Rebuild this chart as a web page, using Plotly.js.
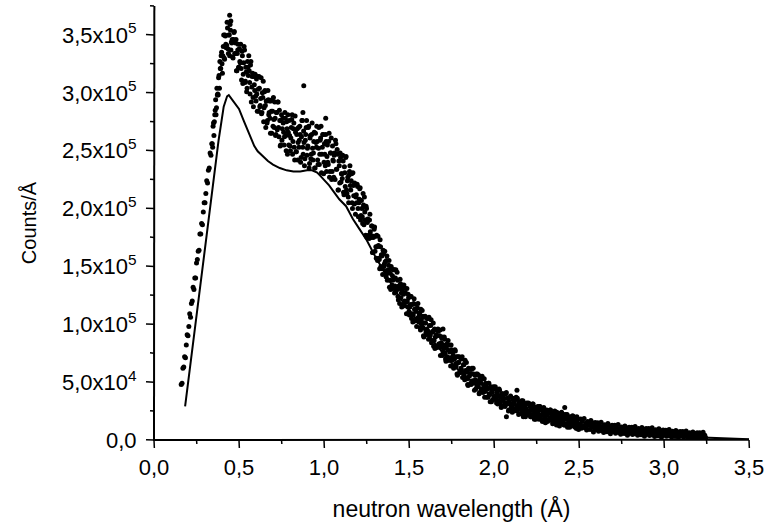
<!DOCTYPE html>
<html>
<head>
<meta charset="utf-8">
<script src="https://cdn.plot.ly/plotly-3.0.1.min.js"></script>
<style>html,body{margin:0;padding:0;background:#fff;}#chart{width:768px;height:524px;}</style>
</head>
<body>
<div id="chart"></div>
<script>
// Measured points: neutron wavelength (Å) and counts/Å in units of 10^3
const measWavelengthA = [
.16,.165,.17,.175,.18,.185,.19,.195,.2,.205,
.21,.215,.22,.225,.23,.235,.24,.245,.25,.255,
.26,.265,.27,.275,.28,.285,.29,.295,.3,.305,
.31,.315,.32,.325,.33,.335,.34,.345,.35,.355,
.36,.365,.37,.375,.38,.385,.39,.395,.4,.405,
.41,.415,.42,.425,.43,.435,.44,.445,.45,.455,
.46,.465,.47,.475,.48,.485,.49,.495,.5,.505,
.51,.515,.52,.525,.53,.535,.54,.545,.55,.555,
.56,.565,.57,.575,.58,.585,.59,.595,.6,.605,
.61,.615,.62,.625,.63,.635,.64,.645,.65,.655,
.66,.665,.67,.675,.68,.685,.69,.695,.7,.705,
.71,.715,.72,.725,.73,.735,.74,.745,.75,.755,
.76,.765,.77,.775,.78,.785,.79,.795,.8,.805,
.81,.815,.82,.825,.83,.835,.84,.845,.85,.855,
.86,.865,.87,.875,.88,.885,.89,.895,.9,.905,
.91,.915,.92,.925,.93,.935,.94,.945,.95,.955,
.96,.965,.97,.975,.98,.985,.99,.995,1,1.005,
1.01,1.015,1.02,1.025,1.03,1.035,1.04,1.045,1.05,1.055,
1.06,1.065,1.07,1.075,1.08,1.085,1.09,1.095,1.1,1.105,
1.11,1.115,1.12,1.125,1.13,1.135,1.14,1.145,1.15,1.155,
1.16,1.165,1.17,1.175,1.18,1.185,1.19,1.195,1.2,1.205,
1.21,1.215,1.22,1.225,1.23,1.235,1.24,1.245,1.25,1.255,
1.26,1.265,1.27,1.275,1.28,1.285,1.29,1.295,1.3,1.305,
1.31,1.315,1.32,1.325,1.33,1.335,1.34,1.345,1.35,1.355,
1.36,1.365,1.37,1.375,1.38,1.385,1.39,1.395,1.4,1.405,
1.41,1.415,1.42,1.425,1.43,1.435,1.44,1.445,1.45,1.455,
1.46,1.465,1.47,1.475,1.48,1.485,1.49,1.495,1.5,1.505,
1.51,1.515,1.52,1.525,1.53,1.535,1.54,1.545,1.55,1.555,
1.56,1.565,1.57,1.575,1.58,1.585,1.59,1.595,1.6,1.605,
1.61,1.615,1.62,1.625,1.63,1.635,1.64,1.645,1.65,1.655,
1.66,1.665,1.67,1.675,1.68,1.685,1.69,1.695,1.7,1.705,
1.71,1.715,1.72,1.725,1.73,1.735,1.74,1.745,1.75,1.755,
1.76,1.765,1.77,1.775,1.78,1.785,1.79,1.795,1.8,1.805,
1.81,1.815,1.82,1.825,1.83,1.835,1.84,1.845,1.85,1.855,
1.86,1.865,1.87,1.875,1.88,1.885,1.89,1.895,1.9,1.905,
1.91,1.915,1.92,1.925,1.93,1.935,1.94,1.945,1.95,1.955,
1.96,1.965,1.97,1.975,1.98,1.985,1.99,1.995,2,2.005,
2.01,2.015,2.02,2.025,2.03,2.035,2.04,2.045,2.05,2.055,
2.06,2.065,2.07,2.075,2.08,2.085,2.09,2.095,2.1,2.105,
2.11,2.115,2.12,2.125,2.13,2.135,2.14,2.145,2.15,2.155,
2.16,2.165,2.17,2.175,2.18,2.185,2.19,2.195,2.2,2.205,
2.21,2.215,2.22,2.225,2.23,2.235,2.24,2.245,2.25,2.255,
2.26,2.265,2.27,2.275,2.28,2.285,2.29,2.295,2.3,2.305,
2.31,2.315,2.32,2.325,2.33,2.335,2.34,2.345,2.35,2.355,
2.36,2.365,2.37,2.375,2.38,2.385,2.39,2.395,2.4,2.405,
2.41,2.415,2.42,2.425,2.43,2.435,2.44,2.445,2.45,2.455,
2.46,2.465,2.47,2.475,2.48,2.485,2.49,2.495,2.5,2.505,
2.51,2.515,2.52,2.525,2.53,2.535,2.54,2.545,2.55,2.555,
2.56,2.565,2.57,2.575,2.58,2.585,2.59,2.595,2.6,2.605,
2.61,2.615,2.62,2.625,2.63,2.635,2.64,2.645,2.65,2.655,
2.66,2.665,2.67,2.675,2.68,2.685,2.69,2.695,2.7,2.705,
2.71,2.715,2.72,2.725,2.73,2.735,2.74,2.745,2.75,2.755,
2.76,2.765,2.77,2.775,2.78,2.785,2.79,2.795,2.8,2.805,
2.81,2.815,2.82,2.825,2.83,2.835,2.84,2.845,2.85,2.855,
2.86,2.865,2.87,2.875,2.88,2.885,2.89,2.895,2.9,2.905,
2.91,2.915,2.92,2.925,2.93,2.935,2.94,2.945,2.95,2.955,
2.96,2.965,2.97,2.975,2.98,2.985,2.99,2.995,3,3.005,
3.01,3.015,3.02,3.025,3.03,3.035,3.04,3.045,3.05,3.055,
3.06,3.065,3.07,3.075,3.08,3.085,3.09,3.095,3.1,3.105,
3.11,3.115,3.12,3.125,3.13,3.135,3.14,3.145,3.15,3.155,
3.16,3.165,3.17,3.175,3.18,3.185,3.19,3.195,3.2,3.205,
3.21,3.215,3.22,3.225,3.23,3.235,3.24,3.245
];
const measCountsK = [
48,49,62,63,72,71,82,91,90,98,
109,106,118,120,132,130,140,140,153,156,
163,164,178,178,187,186,197,205,205,213,
224,222,233,235,248,246,256,253,274,275,
285,281,304,299,313,304,321,332,325,332,
350,329,349,339,361,338,350,332,354,344,
346,330,352,334,343,319,334,342,322,327,
342,311,332,316,340,309,322,301,327,315,
319,299,327,305,317,288,307,316,293,299,
314,284,304,289,313,283,296,275,301,289,
293,274,302,281,293,265,284,294,271,277,
292,263,283,268,292,262,276,255,281,269,
274,255,283,263,275,247,266,276,254,261,
277,247,269,253,280,249,264,242,270,259,
264,244,276,253,267,237,259,270,246,254,
271,239,263,247,274,242,258,235,265,253,
258,238,270,247,261,231,253,264,240,247,
264,232,255,238,265,232,248,225,254,241,
246,225,256,234,247,216,237,248,223,230,
246,214,236,219,245,213,227,205,232,220,
224,205,231,211,222,195,212,221,200,205,
217,190,207,193,213,186,197,177,200,188,
190,174,195,177,185,162,175,182,163,167,
177,155,168,156,173,150,159,143,161,152,
154,141,159,144,151,132,144,150,134,138,
147,127,140,129,145,124,133,118,135,127,
129,117,134,120,127,109,120,126,111,115,
124,105,117,108,122,103,111,98,114,106,
109,97,113,100,107,90,101,107,93,96,
105,87,99,90,104,86,94,81,96,89,
91,80,96,83,90,73,84,89,76,79,
87,70,81,72,86,69,76,64,78,71,
73,63,78,66,72,56,67,72,59,62,
70,54,65,56,69,53,59,48,62,55,
57,48,62,51,57,43,52,57,46,49,
56,41,51,44,55,41,47,37,49,44,
45,37,49,40,45,33,41,45,35,38,
44,32,40,34,44,32,37,29,40,35,
36,29,40,32,36,25,33,37,27,30,
36,25,33,27,37,25,30,22,33,28,
30,23,34,26,30,20,27,31,22,25,
31,20,28,22,31,20,25,18,28,23,
25,18,29,21,26,16,23,26,18,21,
26,16,23,18,26,17,21,14,23,19,
21,15,24,17,21,12,18,22,14,17,
22,13,19,14,22,13,17,11,19,16,
17,12,20,14,18,10,15,18,12,13.9,
18.2,10.1,15.9,11.8,18.6,10.5,14.3,8.7,16,12.9,
14.2,9.1,16.9,11.3,14.6,7,12.3,15.2,9,11,
14.9,7.6,12.9,9.2,15.4,8.1,11.6,6.5,13.2,10.4,
11.7,7.1,14.2,9.1,12.2,5.3,10.2,12.8,7.3,9,
12.7,5.9,10.9,7.4,13.3,6.5,9.7,5,11.3,8.7,
9.9,5.6,12.2,7.5,10.4,4,8.6,11,5.9,7.6,
11.1,4.7,9.4,6.2,11.7,5.3,8.4,4,9.9,7.5,
8.6,4.6,10.9,6.5,9.2,3.2,7.5,9.9,5,6.6,
9.9,3.8,8.3,5.2,10.5,4.4,7.4,3.1,8.8,6.5,
7.5,3.7,9.7,5.5,8.1,2.4,6.5,8.7,4.1,5.6,
8.5,3.2,7.1,4.4,9,3.7,6.3,2.6,7.5,5.5,
6.4,3,8.3,4.6,6.9,1.9,5.4,7.4,3.4,4.7,
7.3,2.5,6,3.6,7.7,2.9,5.2,1.9,6.3,4.5,
5.3,2.3,7,3.7,5.7,1.2,4.4,6.2,2.5,3.7,
6.3,1.5,5,2.6,6.7,1.9,4.2,2
];
// Second, interleaved set of measured points in the broad peak region
const measWavelengthB = [
.3425,.3475,.3525,.3575,.3625,.3675,.3725,.3775,.3825,.3875,
.3925,.3975,.4025,.4075,.4125,.4175,.4225,.4275,.4325,.4375,
.4425,.4475,.4525,.4575,.4625,.4675,.4725,.4775,.4825,.4875,
.4925,.4975,.5025,.5075,.5125,.5175,.5225,.5275,.5325,.5375,
.5425,.5475,.5525,.5575,.5625,.5675,.5725,.5775,.5825,.5875,
.5925,.5975,.6025,.6075,.6125,.6175,.6225,.6275,.6325,.6375,
.6425,.6475,.6525,.6575,.6625,.6675,.6725,.6775,.6825,.6875,
.6925,.6975,.7025,.7075,.7125,.7175,.7225,.7275,.7325,.7375,
.7425,.7475,.7525,.7575,.7625,.7675,.7725,.7775,.7825,.7875,
.7925,.7975,.8025,.8075,.8125,.8175,.8225,.8275,.8325,.8375,
.8425,.8475,.8525,.8575,.8625,.8675,.8725,.8775,.8825,.8875,
.8925,.8975,.9025,.9075,.9125,.9175,.9225,.9275,.9325,.9375,
.9425,.9475,.9525,.9575,.9625,.9675,.9725,.9775,.9825,.9875,
.9925,.9975,1.0025,1.0075,1.0125,1.0175,1.0225,1.0275,1.0325,1.0375,
1.0425,1.0475,1.0525,1.0575,1.0625,1.0675,1.0725,1.0775,1.0825,1.0875,
1.0925,1.0975,1.1025,1.1075,1.1125,1.1175,1.1225,1.1275,1.1325,1.1375,
1.1425,1.1475,1.1525,1.1575,1.1625,1.1675,1.1725,1.1775,1.1825,1.1875,
1.1925,1.1975,1.2025,1.2075,1.2125,1.2175,1.2225,1.2275,1.2325,1.2375,
1.2425,1.2475,1.2525,1.2575,1.2625,1.2675,1.2725,1.2775,1.2825,1.2875,
1.2925,1.2975
];
const measCountsKB = [
256,271,263,281,294,287,298,298,315,327,
321,335,317,340,330,350,342,341,356,334,
350,359,337,343,331,346,353,334,346,319,
337,322,338,326,321,336,308,326,337,310,
318,304,322,332,309,324,292,314,296,314,
302,297,312,284,303,314,288,295,282,300,
310,287,302,270,293,276,294,283,278,293,
265,284,296,270,278,264,283,292,270,285,
254,276,259,278,266,262,278,250,269,281,
255,263,250,270,281,258,274,242,266,249,
269,257,253,271,240,262,276,247,257,243,
264,276,252,270,235,261,243,264,252,248,
266,235,257,271,242,252,238,259,271,247,
264,230,256,237,258,245,240,258,227,248,
261,232,242,227,248,259,234,251,216,241,
222,244,230,226,241,212,231,244,216,224,
210,229,237,216,230,200,220,204,221,210,
205,219,193,208,218,194,200,187,203,210,
190,202,175,191,177,190,180,175,185,162,
176,184
];
// Third, interleaved set of measured points in the decaying tail
const measWavelengthC = [
1.3025,1.3075,1.3125,1.3175,1.3225,1.3275,1.3325,1.3375,1.3425,1.3475,
1.3525,1.3575,1.3625,1.3675,1.3725,1.3775,1.3825,1.3875,1.3925,1.3975,
1.4025,1.4075,1.4125,1.4175,1.4225,1.4275,1.4325,1.4375,1.4425,1.4475,
1.4525,1.4575,1.4625,1.4675,1.4725,1.4775,1.4825,1.4875,1.4925,1.4975,
1.5025,1.5075,1.5125,1.5175,1.5225,1.5275,1.5325,1.5375,1.5425,1.5475,
1.5525,1.5575,1.5625,1.5675,1.5725,1.5775,1.5825,1.5875,1.5925,1.5975,
1.6025,1.6075,1.6125,1.6175,1.6225,1.6275,1.6325,1.6375,1.6425,1.6475,
1.6525,1.6575,1.6625,1.6675,1.6725,1.6775,1.6825,1.6875,1.6925,1.6975,
1.7025,1.7075,1.7125,1.7175,1.7225,1.7275,1.7325,1.7375,1.7425,1.7475,
1.7525,1.7575,1.7625,1.7675,1.7725,1.7775,1.7825,1.7875,1.7925,1.7975,
1.8025,1.8075,1.8125,1.8175,1.8225,1.8275,1.8325,1.8375,1.8425,1.8475,
1.8525,1.8575,1.8625,1.8675,1.8725,1.8775,1.8825,1.8875,1.8925,1.8975,
1.9025,1.9075,1.9125,1.9175,1.9225,1.9275,1.9325,1.9375,1.9425,1.9475,
1.9525,1.9575,1.9625,1.9675,1.9725,1.9775,1.9825,1.9875,1.9925,1.9975,
2.0025,2.0075,2.0125,2.0175,2.0225,2.0275,2.0325,2.0375,2.0425,2.0475,
2.0525,2.0575,2.0625,2.0675,2.0725,2.0775,2.0825,2.0875,2.0925,2.0975,
2.1025,2.1075,2.1125,2.1175,2.1225,2.1275,2.1325,2.1375,2.1425,2.1475,
2.1525,2.1575,2.1625,2.1675,2.1725,2.1775,2.1825,2.1875,2.1925,2.1975,
2.2025,2.2075,2.2125,2.2175,2.2225,2.2275,2.2325,2.2375,2.2425,2.2475,
2.2525,2.2575,2.2625,2.2675,2.2725,2.2775,2.2825,2.2875,2.2925,2.2975,
2.3025,2.3075,2.3125,2.3175,2.3225,2.3275,2.3325,2.3375,2.3425,2.3475,
2.3525,2.3575,2.3625,2.3675,2.3725,2.3775,2.3825,2.3875,2.3925,2.3975,
2.4025,2.4075,2.4125,2.4175,2.4225,2.4275,2.4325,2.4375,2.4425,2.4475,
2.4525,2.4575,2.4625,2.4675,2.4725,2.4775,2.4825,2.4875,2.4925,2.4975
];
const measCountsKC = [
176,157,167,176,157,148,167,160,148,164,
150,163,146,155,138,147,155,138,130,148,
142,131,147,133,147,130,138,121,131,139,
123,115,132,126,116,131,119,131,115,123,
108,117,124,109,102,118,113,103,117,105,
118,102,110,95,104,112,97,89,106,101,
91,105,94,106,91,99,84,93,101,86,
79,95,90,81,94,83,95,80,88,73,
82,89,75,68,83,78,69,82,71,82,
69,76,62,70,77,64,57,72,67,58,
71,61,72,58,65,52,60,67,53,47,
61,57,49,61,51,62,49,56,44,51,
57,46,40,53,49,42,53,44,53,42,
48,37,44,49,39,33,46,42,35,46,
37,46,36,41,31,38,43,33,28,40,
36,30,40,32,41,31,36,26,32,38,
28,24,35,31,26,35,28,36,27,32,
23,29,34,25,20,31,28,22,32,25,
32,24,29,20,26,31,22,18,28,25,
20,29,22,29,21,26,17,23,28,19,
15,25,22,17,25,19,26,18,23,15,
20,25,17,13,22,20,15,23,17,24,
16,20,13,18,22,14,11,20,17,13,
20,15,21,14,18,11,16,20,12,9
];
// Isolated outlying points
const outlierWavelength = [0.445, 0.452, 0.881, 0.876, 1.01, 1.70, 2.135, 2.416, 2.073];
const outlierCountsK = [367, 362, 306, 283, 278, 96, 43, 28, 20];

// Solid curve
const curveWavelength = [0.183,0.25,0.30,0.35,0.38,0.41,0.43,0.44,0.45,0.47,0.50,0.53,0.56,0.59,0.61,0.64,0.67,0.70,0.74,0.78,0.82,0.86,0.90,0.93,0.96,0.98,1.00,1.03,1.06,1.09,1.13,1.17,1.21,1.25,1.30,1.35,1.40,1.45,1.50,1.55,1.60,1.65,1.70,1.76,1.80,1.90,2.00,2.10,2.20,2.30,2.40,2.50,2.60,2.70,2.80,2.90,3.00,3.10,3.20,3.30,3.40,3.50];
const curveCountsK = [29,107,165,224,259,288,297,298,296,292,286,275,264,254,249.5,245.5,241,238,235,233,232,232,233,233,231,228,225,220,214,208,202,191,182,173,159,146,134,122,112,102,93,84,75,65,59,47,37,29,23,18,14.5,11.5,9,7,5.5,4.5,3.5,2.8,2.2,1.6,1,0.6];

// Axis ticks (y in 10^3 counts/Å)
const xMajorTicks = [0, 0.5, 1, 1.5, 2, 2.5, 3, 3.5];
const xTickText = ["0,0","0,5","1,0","1,5","2,0","2,5","3,0","3,5"];
const xMinorTicks = [0.25, 0.75, 1.25, 1.75, 2.25, 2.75, 3.25];
const yMajorTicks = [0,50,100,150,200,250,300,350];
const yTickText = ["0,0","5,0x10<sup>4</sup>","1,0x10<sup>5</sup>","1,5x10<sup>5</sup>","2,0x10<sup>5</sup>","2,5x10<sup>5</sup>","3,0x10<sup>5</sup>","3,5x10<sup>5</sup>"];
const yMinorTicks = [25,75,125,175,225,275,325,375];

const FONT = 'Liberation Sans, Arial, Helvetica, sans-serif';
const X_RANGE = [0, 3.5];
const Y_RANGE = [0, 375];

// Layout geometry in pixels
const W = 768, H = 524;
const ML = 142, MR = 11, MT = 2, MB = 72;          // plotting region 142..757 x 2..452
const PL = 154, PR = 749, PT = 6, PB = 440;        // main plot box
const regW = W - ML - MR, regH = H - MT - MB;
const regL = ML, regR = W - MR, regT = MT, regB = H - MB;
const kx = (X_RANGE[1] - X_RANGE[0]) / (PR - PL);  // data units per pixel
const ky = (Y_RANGE[1] - Y_RANGE[0]) / (PB - PT);
const xDomMain = [(PL - regL) / regW, (PR - regL) / regW];
const yDomMain = [(regB - PB) / regH, (regB - PT) / regH];
const xRangeFrame = [X_RANGE[0] - (PL - regL) * kx, X_RANGE[1] + (regR - PR) * kx];
const yRangeFrame = [Y_RANGE[0] - (regB - PB) * ky, Y_RANGE[1] + (PT - regT) * ky];

// Axis frame and ticks as stroked segments (with a sub-pixel lean) on a frame subplot sharing the main scale
const MAJ = 8, MIN = 4, LEAN = 0.35;
const axX = [], axY = [], tkX = [], tkY = [];
// y axis line
axX.push(X_RANGE[0] + LEAN * kx, X_RANGE[0], null);
axY.push(Y_RANGE[1], Y_RANGE[0] - 1 * ky, null);
// x axis line
axX.push(X_RANGE[0] - 1 * kx, X_RANGE[1], null);
axY.push(Y_RANGE[0], Y_RANGE[0] + LEAN * ky, null);
xMajorTicks.forEach(v => { tkX.push(v, v + LEAN * kx, null); tkY.push(Y_RANGE[0], Y_RANGE[0] - MAJ * ky, null); });
xMinorTicks.forEach(v => { tkX.push(v, v + LEAN * kx, null); tkY.push(Y_RANGE[0], Y_RANGE[0] - MIN * ky, null); });
yMajorTicks.forEach(v => { tkX.push(X_RANGE[0], X_RANGE[0] - MAJ * kx, null); tkY.push(v, v + LEAN * ky, null); });
yMinorTicks.forEach(v => { tkX.push(X_RANGE[0], X_RANGE[0] - MIN * kx, null); tkY.push(v, v + LEAN * ky, null); });

const traces = [
  {x: curveWavelength, y: curveCountsK, mode: 'lines', type: 'scatter',
   line: {color: '#000', width: 2}, hoverinfo: 'skip'},
  {x: measWavelengthA.concat(measWavelengthB, measWavelengthC, outlierWavelength),
   y: measCountsK.concat(measCountsKB, measCountsKC, outlierCountsK),
   mode: 'markers', type: 'scatter',
   marker: {color: '#000', size: 5, line: {width: 0}}, hoverinfo: 'skip'},
  {x: axX, y: axY, xaxis: 'x2', yaxis: 'y2', type: 'scatter', mode: 'lines',
   line: {color: '#000', width: 2, simplify: false}, connectgaps: false, hoverinfo: 'skip'},
  {x: tkX, y: tkY, xaxis: 'x2', yaxis: 'y2', type: 'scatter', mode: 'lines',
   line: {color: '#000', width: 1.5, simplify: false}, connectgaps: false, hoverinfo: 'skip'}
];

const layout = {
  width: W, height: H,
  margin: {l: ML, r: MR, t: MT, b: MB},
  paper_bgcolor: '#fff', plot_bgcolor: 'rgba(0,0,0,0)',
  showlegend: false,
  hovermode: false,
  font: {family: FONT, color: '#000', size: 22},
  xaxis: {
    domain: xDomMain, anchor: 'y',
    range: X_RANGE, tickmode: 'array', tickvals: xMajorTicks, ticktext: xTickText,
    showline: false, ticks: 'outside', ticklen: MAJ, tickwidth: 1.5, tickcolor: 'rgba(0,0,0,0)',
    showgrid: false, zeroline: false,
    tickfont: {family: FONT, size: 22, color: '#000'},
    title: {text: 'neutron wavelength (Å)', font: {family: FONT, size: 23, color: '#000'}, standoff: 21}
  },
  yaxis: {
    domain: yDomMain, anchor: 'x',
    range: Y_RANGE, tickmode: 'array', tickvals: yMajorTicks, ticktext: yTickText,
    showline: false, ticks: 'outside', ticklen: MAJ, tickwidth: 1.5, tickcolor: 'rgba(0,0,0,0)',
    ticklabelstandoff: 4,
    showgrid: false, zeroline: false,
    tickfont: {family: FONT, size: 22, color: '#000'},
    title: {text: 'Counts/Å', font: {family: FONT, size: 20, color: '#000'}, standoff: 19}
  },
  xaxis2: {domain: [0, 1], anchor: 'y2', range: xRangeFrame, visible: false, fixedrange: true},
  yaxis2: {domain: [0, 1], anchor: 'x2', range: yRangeFrame, visible: false, fixedrange: true}
};

Plotly.newPlot('chart', traces, layout, {displayModeBar: false, staticPlot: true});
</script>
</body>
</html>
